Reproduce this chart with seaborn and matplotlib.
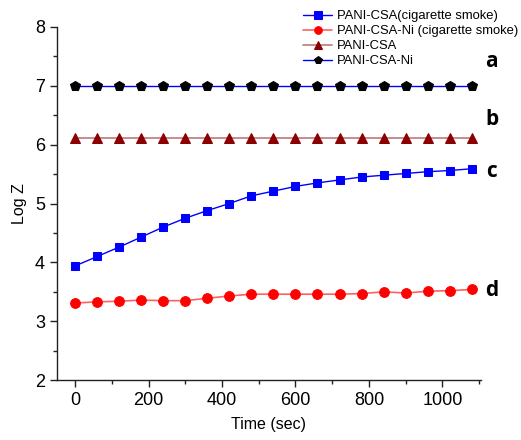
import numpy as np
import pandas as pd
import seaborn as sns
import matplotlib.pyplot as plt
from matplotlib.ticker import MultipleLocator

# Exposure time (s)
time_s = [0, 60, 120, 180, 240, 300, 360, 420, 480, 540,
          600, 660, 720, 780, 840, 900, 960, 1020, 1080]

# Log impedance for each film
csa_smoke = [3.94, 4.10, 4.26, 4.43, 4.60, 4.75, 4.88, 5.00, 5.13, 5.21,
             5.29, 5.35, 5.40, 5.45, 5.48, 5.51, 5.54, 5.56, 5.59]
csa_ni_smoke = [3.31, 3.33, 3.34, 3.36, 3.35, 3.35, 3.39, 3.43, 3.46, 3.46,
                3.46, 3.46, 3.46, 3.47, 3.50, 3.48, 3.51, 3.52, 3.54]
csa = [6.12] * 19
csa_ni = [6.99] * 19

series_names = ["PANI-CSA(cigarette smoke)", "PANI-CSA-Ni (cigarette smoke)",
                "PANI-CSA", "PANI-CSA-Ni"]
curve_letters = ["c", "d", "b", "a"]

sns.set_style("ticks")
plt.rcParams["font.family"] = ["Liberation Sans", "DejaVu Sans"]
plt.rcParams["text.color"] = "black"
plt.rcParams["axes.labelcolor"] = "black"
plt.rcParams["xtick.color"] = "black"
plt.rcParams["ytick.color"] = "black"

fig = plt.figure(figsize=(5.21, 4.40), dpi=100)
ax = fig.add_axes([0.109, 0.136, 0.814, 0.803])

df = pd.DataFrame({"t": time_s, "s1": csa_smoke, "s2": csa_ni_smoke,
                   "s3": csa, "s4": csa_ni})

styles = [
    dict(y="s1", color="#0000ff", marker="s", ms=6.0, mfc="#0000ff", mec="#0000ff", lw=1.0),
    dict(y="s2", color="#ff6060", marker="o", ms=7.0, mfc="#ff0000", mec="#ff0000", lw=1.2),
    dict(y="s3", color="#c07878", marker="^", ms=7.0, mfc="#8b0000", mec="#8b0000", lw=1.2),
    dict(y="s4", color="#0000ff", marker="p", ms=7.5, mfc="black", mec="black", lw=1.0),
]
for name, st in zip(series_names, styles):
    sns.lineplot(data=df, x="t", y=st["y"], ax=ax, color=st["color"],
                 marker=st["marker"], markersize=st["ms"],
                 markerfacecolor=st["mfc"], markeredgecolor=st["mec"],
                 linewidth=st["lw"], label=name)

ax.set_xlim(-50, 1105)
ax.set_ylim(2, 8)
ax.xaxis.set_major_locator(MultipleLocator(200))
ax.xaxis.set_minor_locator(MultipleLocator(100))
ax.yaxis.set_major_locator(MultipleLocator(1))
ax.yaxis.set_minor_locator(MultipleLocator(0.5))
ax.tick_params(which="major", direction="out", length=5, width=1, labelsize=13,
               color="#222222", labelcolor="black")
ax.tick_params(which="minor", direction="out", length=3, width=1, color="#222222")
for side in ("top", "right"):
    ax.spines[side].set_visible(False)
for side in ("left", "bottom"):
    ax.spines[side].set_linewidth(1.0)
    ax.spines[side].set_color("#222222")

ax.set_xlabel("Time (sec)", fontsize=11.5, labelpad=6)
ax.set_ylabel("Log Z", fontsize=11.5, labelpad=6)

leg = ax.legend(loc="upper left", bbox_to_anchor=(0.582, 0.977),
                bbox_transform=fig.transFigure, frameon=False, fontsize=9.4,
                handlelength=2.2, labelspacing=0.22, handletextpad=0.4,
                borderaxespad=0, borderpad=0)
for h in leg.legend_handles:
    h.set_markersize(5.5)
for t in leg.get_texts():
    t.set_color("black")

# curve labels to the right of the data
letter_y = [5.54, 3.53, 6.42, 7.41]
for letter, yv in zip(curve_letters, letter_y):
    ax.text(1135, yv, letter, fontsize=15, fontweight="bold", color="black",
            family=["Open Sans", "DejaVu Sans"], va="center", ha="center",
            clip_on=False)

fig.savefig("out.png", dpi=100)
